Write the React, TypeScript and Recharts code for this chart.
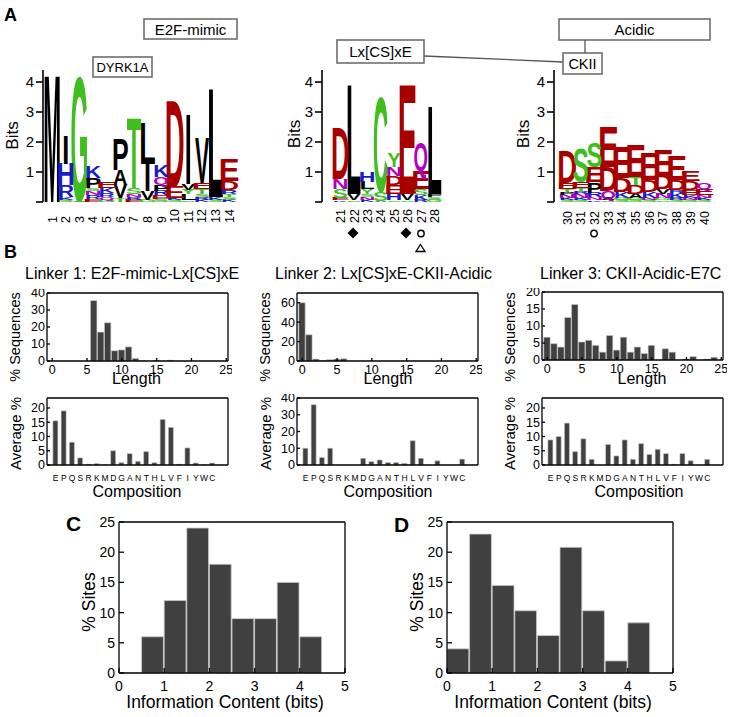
import React from 'react';
import { BarChart, Bar, XAxis, YAxis } from 'recharts';

const FONT = '"Liberation Sans", Arial, Helvetica, sans-serif';
const BAR_FILL = '#404040';
const BAR_EDGE = '#c8c8c8';
const AX = { stroke: '#000', strokeWidth: 1.3 };

// ---------------- Panel A: sequence logos (letter, bits), bottom -> top ----------------
const logo1Positions = ['1', '2', '3', '4', '5', '6', '7', '8', '9', '10', '11', '12', '13', '14'];
const logo1Stacks: [string, number][][] = [
  [['M', 4.2]],
  [['S', 0.08], ['K', 0.1], ['R', 0.4], ['H', 0.7], ['I', 0.95]],
  [['A', 0.04], ['G', 4.1]],
  [['E', 0.1], ['R', 0.12], ['N', 0.13], ['S', 0.1], ['P', 0.35], ['K', 0.4]],
  [['G', 0.08], ['Q', 0.1], ['R', 0.12], ['K', 0.15], ['E', 0.2]],
  [['T', 0.13], ['V', 0.45], ['A', 0.5], ['P', 1.0]],
  [['E', 0.07], ['R', 0.1], ['N', 0.1], ['S', 0.2], ['T', 2.3]],
  [['G', 0.08], ['V', 0.3], ['I', 0.9], ['L', 1.35]],
  [['S', 0.1], ['E', 0.12], ['R', 0.15], ['P', 0.2], ['Q', 0.25], ['K', 0.4]],
  [['S', 0.06], ['K', 0.06], ['E', 0.38], ['D', 2.85]],
  [['S', 0.05], ['L', 0.2], ['Y', 0.15], ['V', 0.2], ['I', 2.3]],
  [['K', 0.08], ['R', 0.1], ['S', 0.1], ['T', 0.15], ['E', 0.2], ['V', 1.5]],
  [['S', 0.08], ['K', 0.07], ['L', 3.6]],
  [['K', 0.08], ['S', 0.1], ['T', 0.1], ['R', 0.12], ['D', 0.3], ['E', 0.73]],
];
const logo2Positions = ['21', '22', '23', '24', '25', '26', '27', '28'];
const logo2Stacks: [string, number][][] = [
  [['K', 0.05], ['E', 0.08], ['S', 0.3], ['N', 0.35], ['D', 1.72]],
  [['S', 0.05], ['V', 0.2], ['L', 3.62]],
  [['K', 0.08], ['N', 0.1], ['S', 0.1], ['Y', 0.15], ['L', 0.25], ['H', 0.35]],
  [['A', 0.04], ['S', 0.3], ['C', 3.1]],
  [['S', 0.05], ['H', 0.2], ['E', 0.3], ['D', 0.3], ['N', 0.3], ['Y', 0.45]],
  [['S', 0.05], ['V', 0.2], ['E', 3.62]],
  [['R', 0.08], ['K', 0.15], ['S', 0.2], ['E', 0.6], ['Q', 0.95]],
  [['G', 0.06], ['S', 0.1], ['F', 0.1], ['L', 2.9]],
];
const logo3Positions = ['30', '31', '32', '33', '34', '35', '36', '37', '38', '39', '40'];
const logo3Stacks: [string, number][][] = [
  [['S', 0.06], ['K', 0.06], ['N', 0.12], ['P', 0.1], ['T', 0.1], ['E', 0.2], ['D', 1.05]],
  [['S', 0.06], ['K', 0.06], ['N', 0.15], ['R', 0.1], ['T', 0.1], ['E', 0.2], ['S', 1.1]],
  [['K', 0.05], ['N', 0.1], ['R', 0.15], ['P', 0.35], ['E', 0.5], ['S', 0.8]],
  [['S', 0.05], ['A', 0.06], ['Q', 0.25], ['D', 0.8], ['E', 1.3]],
  [['S', 0.06], ['G', 0.08], ['K', 0.2], ['D', 0.45], ['E', 1.0]],
  [['S', 0.06], ['G', 0.06], ['A', 0.15], ['D', 0.3], ['T', 0.25], ['E', 1.05]],
  [['S', 0.06], ['N', 0.08], ['K', 0.2], ['D', 0.4], ['E', 0.9]],
  [['S', 0.05], ['G', 0.08], ['N', 0.15], ['V', 0.15], ['D', 0.45], ['E', 0.85]],
  [['S', 0.06], ['R', 0.08], ['K', 0.15], ['R', 0.1], ['D', 0.35], ['E', 0.8]],
  [['S', 0.06], ['N', 0.08], ['K', 0.1], ['E', 0.15], ['D', 0.3], ['E', 0.35]],
  [['S', 0.06], ['K', 0.08], ['N', 0.1], ['E', 0.2], ['Q', 0.2]],
];
const bitTicks = [0, 1, 2, 3, 4];

// ---------------- Panel B ----------------
const lengthBins = [0, 1, 2, 3, 4, 5, 6, 7, 8, 9, 10, 11, 12, 13, 14, 15, 16, 17, 18, 19, 20, 21, 22, 23, 24, 25];
const linker1Length = [0, 0, 0, 0, 0, 0, 35.5, 17, 22.5, 6, 6.5, 8.3, 1.5, 0.2, 0, 0.4, 0, 0.5, 0, 0, 0, 0, 0, 0, 0, 0];
const linker2Length = [60, 27, 2, 0.5, 1.2, 2, 2.3, 0, 0, 0, 0, 0, 0, 0, 0, 0, 0, 0, 0, 0, 0, 0, 0, 0, 0, 0];
const linker3Length = [6.7, 4.8, 3.8, 12.5, 16.3, 5.3, 5.8, 4.3, 2.3, 7.2, 2.9, 6.7, 2.3, 3.8, 1.9, 4.3, 0, 3.3, 2.3, 0, 0.3, 1, 0, 0.3, 0.8, 0];
const lengthTicks = [0, 5, 10, 15, 20, 25];

const aminoAcids = ['E', 'P', 'Q', 'S', 'R', 'K', 'M', 'D', 'G', 'A', 'N', 'T', 'H', 'L', 'V', 'F', 'I', 'Y', 'W', 'C'];
const linker1Composition = [15.5, 19, 8, 2.5, 0.3, 0.5, 0.1, 5, 0.8, 4, 1.3, 4.7, 0.8, 16, 13.2, 0.3, 6, 0.7, 0.1, 0.7];
const linker2Composition = [10, 36, 4.5, 10, 0, 0, 0, 4, 2, 3, 1.5, 1.5, 1, 14.5, 4, 0, 2.5, 0, 0, 3.5];
const linker3Composition = [8.8, 10, 14.7, 4.7, 9.2, 2, 0, 7.2, 3.2, 8.8, 2, 7.5, 3.7, 5.5, 4, 0.3, 4, 1.5, 0, 2];

// ---------------- Panels C, D ----------------
const icBinCenters = [0.25, 0.75, 1.25, 1.75, 2.25, 2.75, 3.25, 3.75, 4.25, 4.75];
const panelCSites = [0, 6, 12, 24, 18, 9, 9, 15, 6, 0];
const panelDSites = [4, 23, 14.5, 10.3, 6.2, 20.8, 10.3, 2, 8.3, 0];
const icTicks = [0, 1, 2, 3, 4, 5];
const siteTicks = [0, 5, 10, 15, 20, 25];

const LETTER_COLORS: Record<string, string> = {
  G: '#3fbf1f', S: '#3fbf1f', T: '#3fbf1f', Y: '#3fbf1f', C: '#3fbf1f',
  N: '#b000c0', Q: '#b000c0',
  K: '#1a1ac8', R: '#1a1ac8', H: '#1a1ac8',
  D: '#a80000', E: '#a80000',
};

// glyph ink width (em) of bold sans capitals, and how wide each glyph is drawn relative to its column
const INK: Record<string, number> = {
  A: 0.70, C: 0.62, D: 0.60, E: 0.53, F: 0.49, G: 0.66, H: 0.56, I: 0.14, K: 0.64, L: 0.52,
  M: 0.69, N: 0.57, P: 0.56, Q: 0.70, R: 0.62, S: 0.58, T: 0.59, V: 0.66, W: 0.93, Y: 0.66,
};
const STRETCH: Record<string, number> = { D: 1.18, E: 1.18, M: 1.06, G: 1.08 };

function logoRows(positions: string[], stacks: [string, number][][]) {
  return positions.map((pos, j) => {
    const row: any = { pos };
    stacks[j].forEach(([letter, bits], i) => {
      row[`h${i}`] = bits;
      row[`c${i}`] = letter;
    });
    return row;
  });
}

function letterShape(i: number) {
  return (props: any) => {
    const { x, y, width, height, payload } = props;
    const letter = payload ? payload[`c${i}`] : undefined;
    if (!letter || !(height > 0.3) || !(width > 0)) return <g />;
    let sx: number;
    if (letter === 'I') {
      sx = (width * 1.3) / 72;
    } else {
      const target = width * (STRETCH[letter] || 1.0);
      sx = target / ((INK[letter] || 0.62) * 100);
    }
    const sy = height / 69;
    return (
      <text
        transform={`translate(${x + width / 2},${y + height}) scale(${sx},${sy})`}
        textAnchor="middle"
        fontSize={100}
        fontWeight="bold"
        fontFamily={FONT}
        fill={LETTER_COLORS[letter] || '#000'}
      >
        {letter}
      </text>
    );
  };
}

const RotTick = (props: any) => {
  const { x, y, payload, baseOffset } = props;
  return (
    <text
      transform={`translate(${x + 4.6},${y + baseOffset}) rotate(-90)`}
      textAnchor="start"
      fontSize={12.5}
      fontFamily={FONT}
      fill="#000"
    >
      {payload.value}
    </text>
  );
};

function LogoChart({ positions, stacks, axisX, plotRight, padLeft, baseOffset }: any) {
  const rows = logoRows(positions, stacks);
  const nLayers = Math.max(...stacks.map((s: any) => s.length));
  const layers = Array.from({ length: nLayers }, (_, i) => i);
  const ml = 32, mt = 6, mr = 8, mb = 34;
  const y0 = 70, y1 = 202;
  const width = plotRight - axisX + ml + mr;
  const height = y1 - y0 + mt + mb;
  return (
    <div style={{ position: 'absolute', left: axisX - ml, top: y0 - mt }}>
      <BarChart width={width} height={height} data={rows} margin={{ top: mt, right: mr, left: 0, bottom: 0 }} barCategoryGap={0} barGap={0}>
        <XAxis
          dataKey="pos"
          interval={0}
          axisLine={false}
          tickLine={false}
          tickSize={0}
          tickMargin={0}
          height={mb}
          padding={{ left: padLeft, right: 0 }}
          tick={(p: any) => <RotTick {...p} baseOffset={baseOffset} />}
        />
        <YAxis
          type="number"
          domain={[0, 4.4]}
          ticks={bitTicks}
          interval={0}
          allowDataOverflow
          width={ml}
          tickSize={7}
          tickMargin={2}
          axisLine={{ stroke: '#000', strokeWidth: 1.6 }}
          tickLine={{ stroke: '#000', strokeWidth: 1.6 }}
          tick={{ fontSize: 15, fill: '#000', fontFamily: FONT }}
          tickFormatter={(v: number) => (v === 0 ? '' : String(v))}
        />
        {layers.map((i) => (
          <Bar key={i} dataKey={`h${i}`} stackId="logo" isAnimationActive={false} shape={letterShape(i)} />
        ))}
      </BarChart>
    </div>
  );
}

function LengthChart({ values, yMax, yTicks, x0, x1, y0, y1 }: any) {
  const data = lengthBins.map((len, i) => ({ len, pct: values[i] })).filter((d) => d.pct > 0);
  const ml = 34, mt = 4, mr = 4, mb = 24;
  const width = x1 - x0 + ml + mr;
  const height = y1 - y0 + mt + mb;
  return (
    <div style={{ position: 'absolute', left: x0 - ml, top: y0 - mt }}>
      <BarChart width={width} height={height} data={data} margin={{ top: mt - 1, right: mr - 1, left: 0, bottom: 0 }}>
        <XAxis xAxisId="b" type="number" dataKey="len" domain={[-0.75, 25.25]} ticks={lengthTicks} interval={0} allowDataOverflow
          tickSize={-3} tickMargin={7} height={mb} axisLine={AX} tickLine={AX} tick={{ fontSize: 12.5, fill: '#000', fontFamily: FONT }} />
        <XAxis xAxisId="t" orientation="top" type="number" dataKey="len" domain={[-0.75, 25.25]} allowDataOverflow
          tick={false} tickLine={false} axisLine={AX} height={1} />
        <YAxis yAxisId="l" type="number" domain={[0, yMax]} ticks={yTicks} interval={0} allowDataOverflow width={ml}
          tickSize={-3} tickMargin={5} axisLine={AX} tickLine={AX} tick={{ fontSize: 12.5, fill: '#000', fontFamily: FONT }} />
        <YAxis yAxisId="r" orientation="right" type="number" domain={[0, yMax]} allowDataOverflow
          tick={false} tickLine={false} axisLine={AX} width={1} />
        <Bar xAxisId="b" yAxisId="l" dataKey="pct" barSize={6.4} fill={BAR_FILL} stroke={BAR_EDGE} strokeWidth={0.6} isAnimationActive={false} />
      </BarChart>
    </div>
  );
}

function CompositionChart({ values, yMax, x0, x1, y0, y1 }: any) {
  const data = aminoAcids.map((aa, i) => ({ aa, pct: values[i] }));
  const ml = 34, mt = 4, mr = 4, mb = 20;
  const width = x1 - x0 + ml + mr;
  const height = y1 - y0 + mt + mb;
  const yTicks = yMax > 30 ? [0, 10, 20, 30, 40] : [0, 5, 10, 15, 20];
  return (
    <div style={{ position: 'absolute', left: x0 - ml, top: y0 - mt }}>
      <BarChart width={width} height={height} data={data} margin={{ top: mt - 1, right: mr - 1, left: 0, bottom: 0 }} barCategoryGap="17%">
        <XAxis xAxisId="b" dataKey="aa" interval={0} padding={{ left: 4.5, right: 11.5 }} tickSize={0} tickMargin={10} height={mb}
          axisLine={AX} tickLine={false} tick={{ fontSize: 8.5, fill: '#000', fontFamily: FONT }} />
        <XAxis xAxisId="t" orientation="top" dataKey="aa" padding={{ left: 4.5, right: 11.5 }} tick={false} tickLine={false} axisLine={AX} height={1} />
        <YAxis yAxisId="l" type="number" domain={[0, yMax]} ticks={yTicks} interval={0} allowDataOverflow width={ml}
          tickSize={-3} tickMargin={5} axisLine={AX} tickLine={AX} tick={{ fontSize: 12.5, fill: '#000', fontFamily: FONT }} />
        <YAxis yAxisId="r" orientation="right" type="number" domain={[0, yMax]} allowDataOverflow
          tick={false} tickLine={false} axisLine={AX} width={1} />
        <Bar xAxisId="b" yAxisId="l" dataKey="pct" fill={BAR_FILL} stroke={BAR_EDGE} strokeWidth={0.6} isAnimationActive={false} />
      </BarChart>
    </div>
  );
}

function SitesChart({ values, x0, x1, y0, y1 }: any) {
  const data = icBinCenters.map((ic, i) => ({ ic, pct: values[i] })).filter((d) => d.pct > 0);
  const ml = 40, mt = 6, mr = 6, mb = 40;
  const width = x1 - x0 + ml + mr;
  const height = y1 - y0 + mt + mb;
  const tickFont = { fontSize: 14, fill: '#000', fontFamily: FONT };
  return (
    <div style={{ position: 'absolute', left: x0 - ml, top: y0 - mt }}>
      <BarChart width={width} height={height} data={data} margin={{ top: mt - 1, right: mr - 1, left: 0, bottom: 0 }}>
        <XAxis xAxisId="b" type="number" dataKey="ic" domain={[0, 5]} ticks={icTicks} interval={0} allowDataOverflow
          tickSize={-5} tickMargin={13} height={mb} axisLine={AX} tickLine={AX} tick={tickFont} />
        <XAxis xAxisId="t" orientation="top" type="number" dataKey="ic" domain={[0, 5]} ticks={icTicks} interval={0} allowDataOverflow
          tick={false} tickSize={-5} tickLine={AX} axisLine={AX} height={1} />
        <YAxis yAxisId="l" type="number" domain={[0, 25]} ticks={siteTicks} interval={0} allowDataOverflow width={ml}
          tickSize={-5} tickMargin={9} axisLine={AX} tickLine={AX} tick={tickFont} />
        <YAxis yAxisId="r" orientation="right" type="number" domain={[0, 25]} ticks={siteTicks} interval={0} allowDataOverflow
          tick={false} tickSize={-5} tickLine={AX} axisLine={AX} width={1} />
        <Bar xAxisId="b" yAxisId="l" dataKey="pct" barSize={21.8} fill={BAR_FILL} stroke={BAR_EDGE} strokeWidth={0.8} isAnimationActive={false} />
      </BarChart>
    </div>
  );
}

function Overlay() {
  const t = { fontFamily: FONT, fill: '#000' } as any;
  const box = { fill: 'none', stroke: '#6e6e6e', strokeWidth: 1.6 };
  const rot = (x: number, y: number) => `translate(${x},${y}) rotate(-90)`;
  return (
    <svg width={729} height={717} style={{ position: 'absolute', left: 0, top: 0, pointerEvents: 'none' }}>
      <text x={4} y={21} fontSize={18} fontWeight="bold" {...t}>A</text>
      <text x={4} y={258} fontSize={18} fontWeight="bold" {...t}>B</text>
      <text x={66} y={531} fontSize={21} fontWeight="bold" {...t}>C</text>
      <text x={394} y={532} fontSize={21} fontWeight="bold" {...t}>D</text>

      <rect x={144} y={19} width={93} height={20} {...box} />
      <text x={190.5} y={34.5} fontSize={15} textAnchor="middle" {...t}>E2F-mimic</text>
      <rect x={93} y={57} width={59} height={20} {...box} />
      <text x={122.5} y={71.8} fontSize={13} textAnchor="middle" {...t}>DYRK1A</text>
      <rect x={337} y={40} width={87} height={23} {...box} />
      <text x={380.5} y={57} fontSize={15} textAnchor="middle" {...t}>Lx[CS]xE</text>
      <line x1={424} y1={56} x2={563} y2={62} stroke="#555" strokeWidth={1.3} />
      <rect x={559} y={19} width={151} height={21} {...box} />
      <text x={634.5} y={35} fontSize={15} textAnchor="middle" {...t}>Acidic</text>
      <rect x={563} y={53} width={39} height={21} {...box} />
      <text x={582.5} y={69} fontSize={14.5} textAnchor="middle" {...t}>CKII</text>
      <line x1={585} y1={40} x2={585} y2={53} stroke="#555" strokeWidth={1.3} />

      <text transform={rot(17.5, 135.5)} fontSize={17} textAnchor="middle" {...t}>Bits</text>
      <text transform={rot(300, 134)} fontSize={17} textAnchor="middle" {...t}>Bits</text>
      <text transform={rot(529, 134)} fontSize={17} textAnchor="middle" {...t}>Bits</text>

      <path d="M353,227.5 L358.5,233 L353,238.5 L347.5,233 Z" fill="#000" />
      <path d="M406,227.5 L411.5,233 L406,238.5 L400.5,233 Z" fill="#000" />
      <circle cx={421} cy={233.5} r={3.2} fill="none" stroke="#000" strokeWidth={1.4} />
      <path d="M420.5,244.5 L425,251.5 L416,251.5 Z" fill="none" stroke="#000" strokeWidth={1.3} />
      <circle cx={594} cy={233.5} r={3.2} fill="none" stroke="#000" strokeWidth={1.4} />

      <text x={25} y={278.5} fontSize={16} {...t}>Linker 1: E2F-mimic-Lx[CS]xE</text>
      <text x={275} y={278.5} fontSize={16} {...t}>Linker 2: Lx[CS]xE-CKII-Acidic</text>
      <text x={540} y={278.5} fontSize={16} {...t}>Linker 3: CKII-Acidic-E7C</text>

      <text transform={rot(20, 337)} fontSize={14.5} textAnchor="middle" {...t}>% Sequences</text>
      <text transform={rot(270, 337)} fontSize={14.5} textAnchor="middle" {...t}>% Sequences</text>
      <text transform={rot(515, 337)} fontSize={14.5} textAnchor="middle" {...t}>% Sequences</text>
      <text transform={rot(20.5, 433.5)} fontSize={15} textAnchor="middle" {...t}>Average %</text>
      <text transform={rot(271, 433.5)} fontSize={15} textAnchor="middle" {...t}>Average %</text>
      <text transform={rot(515, 433.5)} fontSize={15} textAnchor="middle" {...t}>Average %</text>
      <text x={136.5} y={384} fontSize={16} textAnchor="middle" {...t}>Length</text>
      <text x={388} y={384} fontSize={16} textAnchor="middle" {...t}>Length</text>
      <text x={642} y={384} fontSize={16} textAnchor="middle" {...t}>Length</text>
      <text x={137} y={497} fontSize={16} textAnchor="middle" {...t}>Composition</text>
      <text x={388} y={497} fontSize={16} textAnchor="middle" {...t}>Composition</text>
      <text x={639} y={497} fontSize={16} textAnchor="middle" {...t}>Composition</text>

      <text transform={rot(95, 602)} fontSize={17.5} textAnchor="middle" {...t}>% Sites</text>
      <text transform={rot(423, 602)} fontSize={17.5} textAnchor="middle" {...t}>% Sites</text>
      <text x={225} y={707.5} fontSize={17.5} textAnchor="middle" {...t}>Information Content (bits)</text>
      <text x={553} y={707.5} fontSize={17.5} textAnchor="middle" {...t}>Information Content (bits)</text>
    </svg>
  );
}

export default function App() {
  return (
    <div style={{ position: 'absolute', left: 0, top: 0, width: 729, height: 717, background: '#fff', fontFamily: FONT, overflow: 'hidden' }}>
      <LogoChart positions={logo1Positions} stacks={logo1Stacks} axisX={43} plotRight={235.8} padLeft={2.2} baseOffset={21} />
      <LogoChart positions={logo2Positions} stacks={logo2Stacks} axisX={322} plotRight={441.2} padLeft={11.8} baseOffset={21} />
      <LogoChart positions={logo3Positions} stacks={logo3Stacks} axisX={554} plotRight={710.8} padLeft={6.2} baseOffset={23} />

      <LengthChart values={linker1Length} yMax={40} yTicks={[0, 10, 20, 30, 40]} x0={47} x1={228} y0={293} y1={361} />
      <LengthChart values={linker2Length} yMax={70} yTicks={[0, 20, 40, 60]} x0={297} x1={478} y0={293} y1={361} />
      <LengthChart values={linker3Length} yMax={20} yTicks={[0, 5, 10, 15, 20]} x0={542} x1={723} y0={292} y1={360} />

      <CompositionChart values={linker1Composition} yMax={23.5} x0={47} x1={228} y0={398} y1={465} />
      <CompositionChart values={linker2Composition} yMax={40} x0={297} x1={478} y0={398} y1={465} />
      <CompositionChart values={linker3Composition} yMax={23.5} x0={542} x1={723} y0={398} y1={465} />

      <SitesChart values={panelCSites} x0={119} x1={345} y0={522} y1={673} />
      <SitesChart values={panelDSites} x0={447} x1={673} y0={522} y1={673} />

      <Overlay />
    </div>
  );
}
